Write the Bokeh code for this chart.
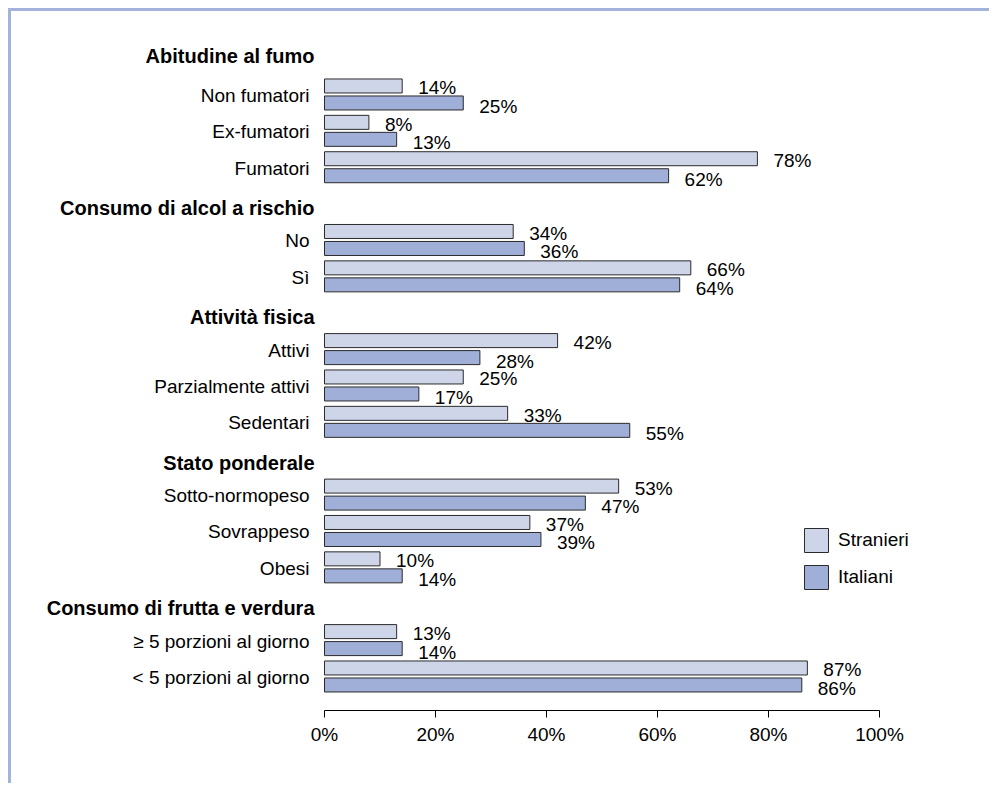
from bokeh.plotting import figure
from bokeh.models import (Range1d, LinearAxis, FixedTicker, ColumnDataSource,
                          Legend, LegendItem)
from bokeh.core.properties import value
from bokeh.embed import file_html
from bokeh.resources import INLINE

# ---------------- data ----------------
group_titles = ["Abitudine al fumo", "Consumo di alcol a rischio", "Attività fisica",
                "Stato ponderale", "Consumo di frutta e verdura"]
cats_fumo = ["Non fumatori", "Ex-fumatori", "Fumatori"]
cats_alcol = ["No", "Sì"]
cats_attivita = ["Attivi", "Parzialmente attivi", "Sedentari"]
cats_peso = ["Sotto-normopeso", "Sovrappeso", "Obesi"]
cats_frutta = ["≥ 5 porzioni al giorno", "< 5 porzioni al giorno"]

stranieri_fumo = [14, 8, 78]
italiani_fumo = [25, 13, 62]
stranieri_alcol = [34, 66]
italiani_alcol = [36, 64]
stranieri_attivita = [42, 25, 33]
italiani_attivita = [28, 17, 55]
stranieri_peso = [53, 37, 10]
italiani_peso = [47, 39, 14]
stranieri_frutta = [13, 87]
italiani_frutta = [14, 86]

series_names = ["Stranieri", "Italiani"]
tick_values = [0, 20, 40, 60, 80, 100]
tick_labels = ["0%", "20%", "40%", "60%", "80%", "100%"]

# ---------------- style / layout ----------------
FONT = "Liberation Sans"
FS = "19px"
FS_HEAD = "20px"
C_STR = "#CFD5E8"
C_ITA = "#A0AFD8"
C_EDGE = "#2B2B2B"
C_FRAME = "#A3B3DB"
BORDER = 3
MARGIN = 8

W, H = 992 - MARGIN - BORDER, 786 - MARGIN - BORDER
OX, OY = MARGIN + BORDER, MARGIN + BORDER  # page position of canvas origin
ZERO_X, PX_PER_PCT = 324.0, 5.55           # page x of 0 %, pixels per %
AXIS_Y = 710.0                             # page y of the axis line
TOP_SLOT, PITCH = 57.6, 36.375             # page y of first slot, slot pitch
BAR_H, BAR_OFF = 14, 8.5

groups = [
    (group_titles[0], cats_fumo, stranieri_fumo, italiani_fumo),
    (group_titles[1], cats_alcol, stranieri_alcol, italiani_alcol),
    (group_titles[2], cats_attivita, stranieri_attivita, italiani_attivita),
    (group_titles[3], cats_peso, stranieri_peso, italiani_peso),
    (group_titles[4], cats_frutta, stranieri_frutta, italiani_frutta),
]

head_y, head_txt = [], []
row_y, row_txt, s_vals, i_vals = [], [], [], []
slot = 0
for gi, (title, cats, sv, iv) in enumerate(groups):
    head_y.append(TOP_SLOT + slot * PITCH + (4.5 if gi else -2.0))
    head_txt.append(title)
    slot += 1
    for c, a, b in zip(cats, sv, iv):
        row_y.append(TOP_SLOT + slot * PITCH)
        row_txt.append(c)
        s_vals.append(a)
        i_vals.append(b)
        slot += 1

s_y = [y - BAR_OFF for y in row_y]
i_y = [y + BAR_OFF for y in row_y]

src_s = ColumnDataSource(dict(y=s_y, v=s_vals, lab=[f"{v}%" for v in s_vals],
                              ly=[y + 2 for y in s_y]))
src_i = ColumnDataSource(dict(y=i_y, v=i_vals, lab=[f"{v}%" for v in i_vals],
                              ly=[y + 3.5 for y in i_y]))
src_rows = ColumnDataSource(dict(y=[y + 1 for y in row_y], t=row_txt, x=[0] * len(row_y)))
src_head = ColumnDataSource(dict(y=head_y, t=head_txt, x=[0] * len(head_y)))

x0 = (OX - ZERO_X) / PX_PER_PCT
x1 = (OX + W - ZERO_X) / PX_PER_PCT

p = figure(width=W, height=H, output_backend="svg", toolbar_location=None,
           x_range=Range1d(x0, x1), y_range=Range1d(AXIS_Y, OY),
           x_axis_location=None, y_axis_location=None,
           min_border_left=0, min_border_right=0, min_border_top=0,
           min_border_bottom=int(H - (AXIS_Y - OY)))
p.outline_line_color = None
p.xgrid.visible = False
p.ygrid.visible = False
p.background_fill_color = "white"
p.border_fill_color = "white"
p.styles = {"border-top": f"{BORDER}px solid {C_FRAME}",
            "border-left": f"{BORDER}px solid {C_FRAME}",
            "margin-top": f"{MARGIN}px",
            "margin-left": f"{MARGIN}px"}

r_s = p.hbar(y="y", left=0, right="v", height=BAR_H, source=src_s,
             fill_color=C_STR, line_color=C_EDGE, line_width=1)
r_i = p.hbar(y="y", left=0, right="v", height=BAR_H, source=src_i,
             fill_color=C_ITA, line_color=C_EDGE, line_width=1)

for src in (src_s, src_i):
    p.text(x="v", y="ly", text="lab", source=src, x_offset=16,
           text_align="left", text_baseline="middle",
           text_font=value(FONT), text_font_size=FS, text_color="black")

p.text(x="x", y="y", text="t", source=src_rows, x_offset=-15,
       text_align="right", text_baseline="middle",
       text_font=value(FONT), text_font_size=FS, text_color="black")
p.text(x="x", y="y", text="t", source=src_head, x_offset=-10,
       text_align="right", text_baseline="middle",
       text_font=value(FONT), text_font_size=FS_HEAD, text_font_style="bold",
       text_color="black")

axis = LinearAxis(bounds=(0, 100), ticker=FixedTicker(ticks=tick_values),
                  major_label_overrides={t: l for t, l in zip(tick_values, tick_labels)})
axis.axis_line_color = "black"
axis.axis_line_width = 1
axis.major_tick_line_color = "black"
axis.major_tick_out = 7
axis.major_tick_in = 0
axis.minor_tick_line_color = None
axis.major_label_standoff = 6
axis.major_label_text_font = FONT
axis.major_label_text_font_size = FS
axis.major_label_text_color = "black"
p.add_layout(axis, "below")

# legend glyph areas are inset by 10% when drawn -> 30px area gives a 24px box
legend = Legend(items=[LegendItem(label=series_names[0], renderers=[r_s]),
                       LegendItem(label=series_names[1], renderers=[r_i])],
                location=(801 - OX, AXIS_Y - 592), orientation="vertical")
legend.padding = 0
legend.margin = 0
legend.spacing = 7
legend.glyph_width = 30
legend.glyph_height = 30
legend.label_height = 30
legend.label_standoff = 7
legend.label_text_font = FONT
legend.label_text_font_size = FS
legend.label_text_color = "black"
legend.border_line_color = None
legend.background_fill_alpha = 0
p.add_layout(legend, "center")

open("out.html", "w").write(file_html(p, INLINE))
